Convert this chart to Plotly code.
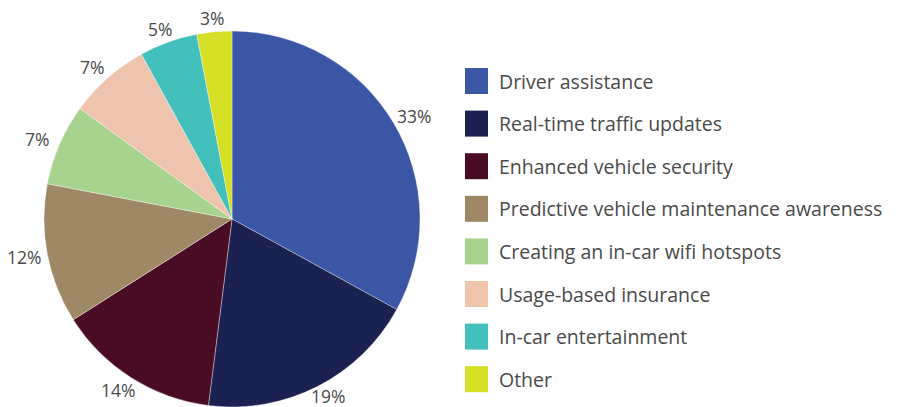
import math
import plotly.graph_objects as go

# Share of respondents per connected-car feature
categories = [
    "Driver assistance",
    "Real-time traffic updates",
    "Enhanced vehicle security",
    "Predictive vehicle maintenance awareness",
    "Creating an in-car wifi hotspots",
    "Usage-based insurance",
    "In-car entertainment",
    "Other",
]
shares = [33, 19, 14, 12, 7, 7, 5, 3]
colors = ["#3B56A5", "#1B2150", "#4A0C25", "#9E8865",
          "#A8D38F", "#EEC4AC", "#43C0BC", "#D4DF25"]

W, H = 900, 407
FONT = "Open Sans"
TEXT_COLOR = "#4A4A4A"

# Pie placement in pixels
CX, CY, R = 232, 219, 188

fig = go.Figure(
    go.Pie(
        labels=categories,
        values=shares,
        sort=False,
        direction="clockwise",
        rotation=0,
        marker=dict(colors=colors, line=dict(color="rgba(255,255,255,0.6)", width=0.6)),
        textinfo="none",
        domain=dict(x=[(CX - R) / W, (CX + R) / W], y=[1 - (CY + R) / H, 1 - (CY - R) / H]),
        showlegend=False,
        hoverinfo="label+percent",
    )
)

# Percentage labels just outside each slice, at the slice's mid-angle
annotations = []
total = sum(shares)
cum = 0.0
label_r, lw, lh = 194, 36, 16
for v in shares:
    mid = (cum + v / 2) / total * 2 * math.pi
    cum += v
    dx, dy = math.sin(mid), -math.cos(mid)
    px = CX + label_r * dx + dx * lw / 2
    py = CY + label_r * dy + dy * lh / 2
    py = min(max(py, lh / 2 + 3), H - lh / 2 - 3)  # keep labels inside the canvas
    annotations.append(dict(
        x=px / W, y=1 - py / H, xref="paper", yref="paper",
        text=f"{v}%", showarrow=False, xanchor="center", yanchor="middle",
        font=dict(family=FONT, size=17.5, color=TEXT_COLOR),
    ))

# Legend drawn as swatches with labels
shapes = []
top, step = 81, 42.6
for i, (name, col) in enumerate(zip(categories, colors)):
    yc = top + i * step
    shapes.append(dict(
        type="rect", xref="paper", yref="paper",
        x0=465 / W, x1=488 / W,
        y0=1 - (yc + 13) / H, y1=1 - (yc - 13) / H,
        fillcolor=col, line=dict(width=0),
    ))
    annotations.append(dict(
        x=497 / W, y=1 - yc / H, xref="paper", yref="paper",
        text=name, showarrow=False, xanchor="left", yanchor="middle",
        font=dict(family=FONT, size=19.5, color=TEXT_COLOR),
    ))

fig.update_layout(
    width=W, height=H,
    margin=dict(l=0, r=0, t=0, b=0),
    paper_bgcolor="white",
    plot_bgcolor="white",
    shapes=shapes,
    annotations=annotations,
)

fig.write_html("out.html")
